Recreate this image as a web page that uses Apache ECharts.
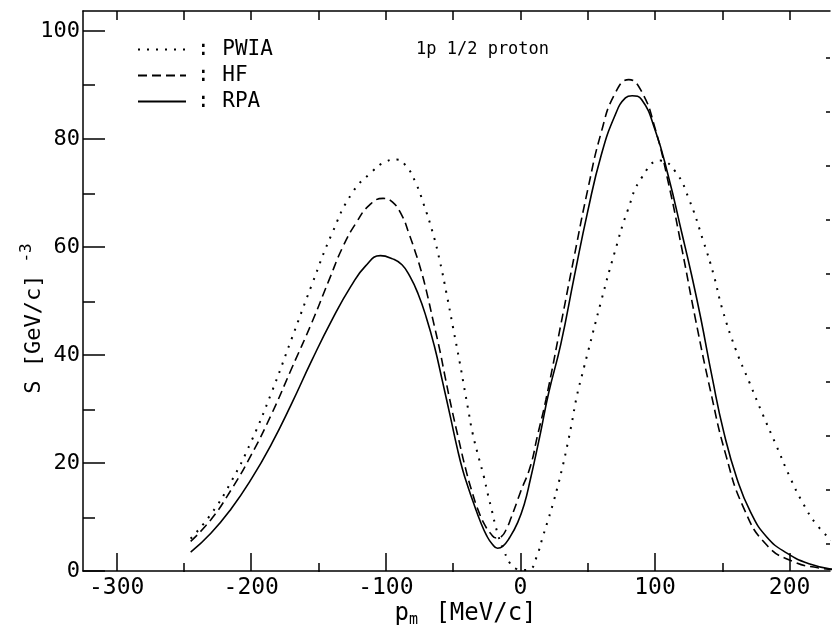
<!DOCTYPE html>
<html>
<head>
<meta charset="utf-8">
<script src="https://cdn.jsdelivr.net/npm/echarts@6/dist/echarts.min.js"></script>
<style>
html,body{margin:0;padding:0;background:#fff;}
#c{width:832px;height:633px;}
</style>
</head>
<body>
<div id="c"></div>
<script>
// ---- data (p_m in MeV/c, S in (GeV/c)^-3) ----
const rpaX = [-245,-230,-215,-200,-185,-170,-155,-140,-126,-115,-104,-95,-88,-82,-76,-70,-64,-58,-52,-47,-43,-39,-34,-30,-25,-21,-17,-13,-8,-2,3,7.4,11,15,21,30,40,50,60,70,78,83,90,100,110,120,127,134,142.5,151,161,171,183,198,215,232];
const rpaY = [3.5,7,11.5,17,23.5,31,39,46.5,52.7,56.5,58.4,57.8,56.7,54.5,51.3,47,41.7,35.2,28.5,22.8,18.8,15.6,12,9.3,6.5,5,4.2,4.6,6.2,9,12.5,17,21,25.7,33,42,54.5,66.6,77,84.2,87.6,88,87.3,81.7,73,62.5,55,46.8,35.8,25.8,17,10.9,6.3,3.3,1.3,0.3];
const hfX = [-245,-230,-215,-200,-185,-170,-155,-142,-132,-122,-112,-102,-95,-88,-83,-78,-74,-70,-65,-60,-56,-51,-46,-41,-36,-31,-26,-22,-18,-14,-10,-7,-3,0,7.4,12.6,19,30,40,50,60,70,80.5,90,100,110,120,130,141,152.6,166,183,203,221,232];
const hfY = [5.5,9.5,15,21.5,29,37.5,46,54,60,64.5,67.8,69,68.3,65.8,62.6,59,55.8,52,46.5,41,36,30,24.5,19.2,14.7,11,8.3,6.9,6.1,6.4,8,9.8,12.5,14.6,19.4,25,31.8,45.6,58.3,70.6,81.2,88.3,91,88.8,82,71.8,59.6,46.7,33.6,21.5,11.6,4.8,1.7,0.6,0.3];
const pwiaX = [-245,-230,-215,-200,-185,-170,-155,-140,-125,-110,-100,-92,-85,-78,-72,-65,-60,-55,-50,-45,-42,-38.6,-35.7,-31,-27,-24.5,-22,-17,-12,-7.4,-3,2,7.4,12,16.7,21,24,27.5,31,35,38,42,46,50,60,70,80,90,104,115,125,136,143.5,150,160,170,180,190,200,210,220,232];
const pwiaY = [6,10.5,16.5,24,33,43,53,62.5,70,74,75.8,76.2,75,72,68,62.5,57.5,51.5,45,38.5,34.3,29.6,25.7,21,17.3,14.5,12,7,3.6,1.3,0.4,0.2,0.4,2.6,6.4,9.8,12.3,15.5,19,23.5,27.2,32.5,36.5,40.4,50,59,67,72.8,76,74,69,61,54.9,48.5,41,35,29,23.3,17.5,12.5,8.6,5.5];

const xLabelVals = [-300,-200,-100,0,100,200];
const xMinorVals = [-250,-150,-50,50,150];
const yLabelVals = [0,20,40,60,80,100];
const yMinorVals = [10,30,50,70,90];
const rightTickVals = [5,15,25,35,45,55,65,75,85,95];

const seriesNames = ['PWIA','HF','RPA'];
const titleText = '1p 1/2 proton';

function pairs(xs, ys){ return xs.map((x,i)=>[x, ys[i]]); }

const MONO = 'DejaVu Sans Mono';
const X_MIN = -325, X_MAX = 230, Y_MIN = 0, Y_MAX = 103.7;
const gridRect = {left:83, right:2, top:11, bottom:61};

const chart = echarts.init(document.getElementById('c'), null, {renderer:'canvas'});
const tickStyle = {color:'#000', width:1.5};

chart.setOption({
  animation:false,
  backgroundColor:'#fff',
  grid:[Object.assign({containLabel:false}, gridRect), Object.assign({containLabel:false}, gridRect)],
  legend:{
    left:132, top:34, orient:'vertical', itemWidth:48, itemHeight:14, itemGap:5,
    data:seriesNames.map(n=>({name:n})),
    formatter: n => ': ' + n,
    itemStyle:{opacity:0},
    textStyle:{fontFamily:MONO, fontSize:21, color:'#000', padding:[0,0,0,6]}
  },
  xAxis:[
    {type:'value', gridIndex:0, position:'bottom', min:X_MIN, max:X_MAX,
     axisLine:{show:true, onZero:false, lineStyle:{color:'#000', width:1.5}},
     axisTick:{show:true, inside:true, length:18, customValues:xLabelVals, lineStyle:tickStyle},
     axisLabel:{show:true, customValues:xLabelVals, fontFamily:MONO, fontSize:23, color:'#000', margin:6},
     splitLine:{show:false},
     name:'{p|p}{sub|m} [MeV/c]', nameLocation:'middle', nameGap:29, nameMoveOverlap:false,
     nameTextStyle:{fontFamily:MONO, fontSize:24, color:'#000', padding:[0,0,0,18],
       rich:{p:{fontFamily:MONO, fontSize:24, color:'#000'}, sub:{fontFamily:MONO, fontSize:15, color:'#000', verticalAlign:'bottom', padding:[13,3,0,0]}}}
    },
    {type:'value', gridIndex:0, position:'top', min:X_MIN, max:X_MAX,
     axisLine:{show:true, onZero:false, lineStyle:{color:'#000', width:1.5}},
     axisTick:{show:true, inside:true, length:9, customValues:xLabelVals.concat(xMinorVals), lineStyle:tickStyle},
     axisLabel:{show:false}, splitLine:{show:false}},
    {type:'value', gridIndex:1, position:'bottom', min:X_MIN, max:X_MAX,
     axisLine:{show:false, onZero:false},
     axisTick:{show:true, inside:true, length:9, customValues:xMinorVals, lineStyle:tickStyle},
     axisLabel:{show:false}, splitLine:{show:false}}
  ],
  yAxis:[
    {type:'value', gridIndex:0, position:'left', min:Y_MIN, max:Y_MAX,
     axisLine:{show:true, onZero:false, lineStyle:{color:'#000', width:1.5}},
     axisTick:{show:true, inside:true, length:22, customValues:yLabelVals, lineStyle:tickStyle},
     axisLabel:{show:true, customValues:yLabelVals, fontFamily:MONO, fontSize:22, color:'#000', margin:3},
     splitLine:{show:false},
     name:'S [GeV/c]{sup|-3}', nameLocation:'middle', nameRotate:90, nameGap:34, nameMoveOverlap:false,
     nameTextStyle:{fontFamily:MONO, fontSize:22, color:'#000', padding:[0,55,0,0],
       rich:{sup:{fontFamily:MONO, fontSize:16, color:'#000', verticalAlign:'top', padding:[0,0,14,12]}}}
    },
    {type:'value', gridIndex:0, position:'right', min:Y_MIN, max:Y_MAX,
     axisLine:{show:false, onZero:false},
     axisTick:{show:true, inside:true, length:4, customValues:rightTickVals, lineStyle:tickStyle},
     axisLabel:{show:false}, splitLine:{show:false}},
    {type:'value', gridIndex:1, position:'left', min:Y_MIN, max:Y_MAX,
     axisLine:{show:false, onZero:false},
     axisTick:{show:true, inside:true, length:12, customValues:yMinorVals, lineStyle:tickStyle},
     axisLabel:{show:false}, splitLine:{show:false}}
  ],
  graphic:[
    {type:'text', left:416, top:41, style:{text:titleText, fontFamily:MONO, fontSize:17, fill:'#000'}}
  ],
  series:[
    {name:'PWIA', type:'line', xAxisIndex:0, yAxisIndex:0, data:pairs(pwiaX,pwiaY), smooth:0.5, showSymbol:false, symbol:'none',
     lineStyle:{color:'#000', width:2, type:[2,7]}, itemStyle:{color:'#000'}},
    {name:'HF', type:'line', xAxisIndex:0, yAxisIndex:0, data:pairs(hfX,hfY), smooth:0.5, showSymbol:false, symbol:'none',
     lineStyle:{color:'#000', width:1.6, type:[9,5]}, itemStyle:{color:'#000'}},
    {name:'RPA', type:'line', xAxisIndex:0, yAxisIndex:0, data:pairs(rpaX,rpaY), smooth:0.5, showSymbol:false, symbol:'none',
     lineStyle:{color:'#000', width:1.6, type:'solid'}, itemStyle:{color:'#000'}}
  ]
});
</script>
</body>
</html>
